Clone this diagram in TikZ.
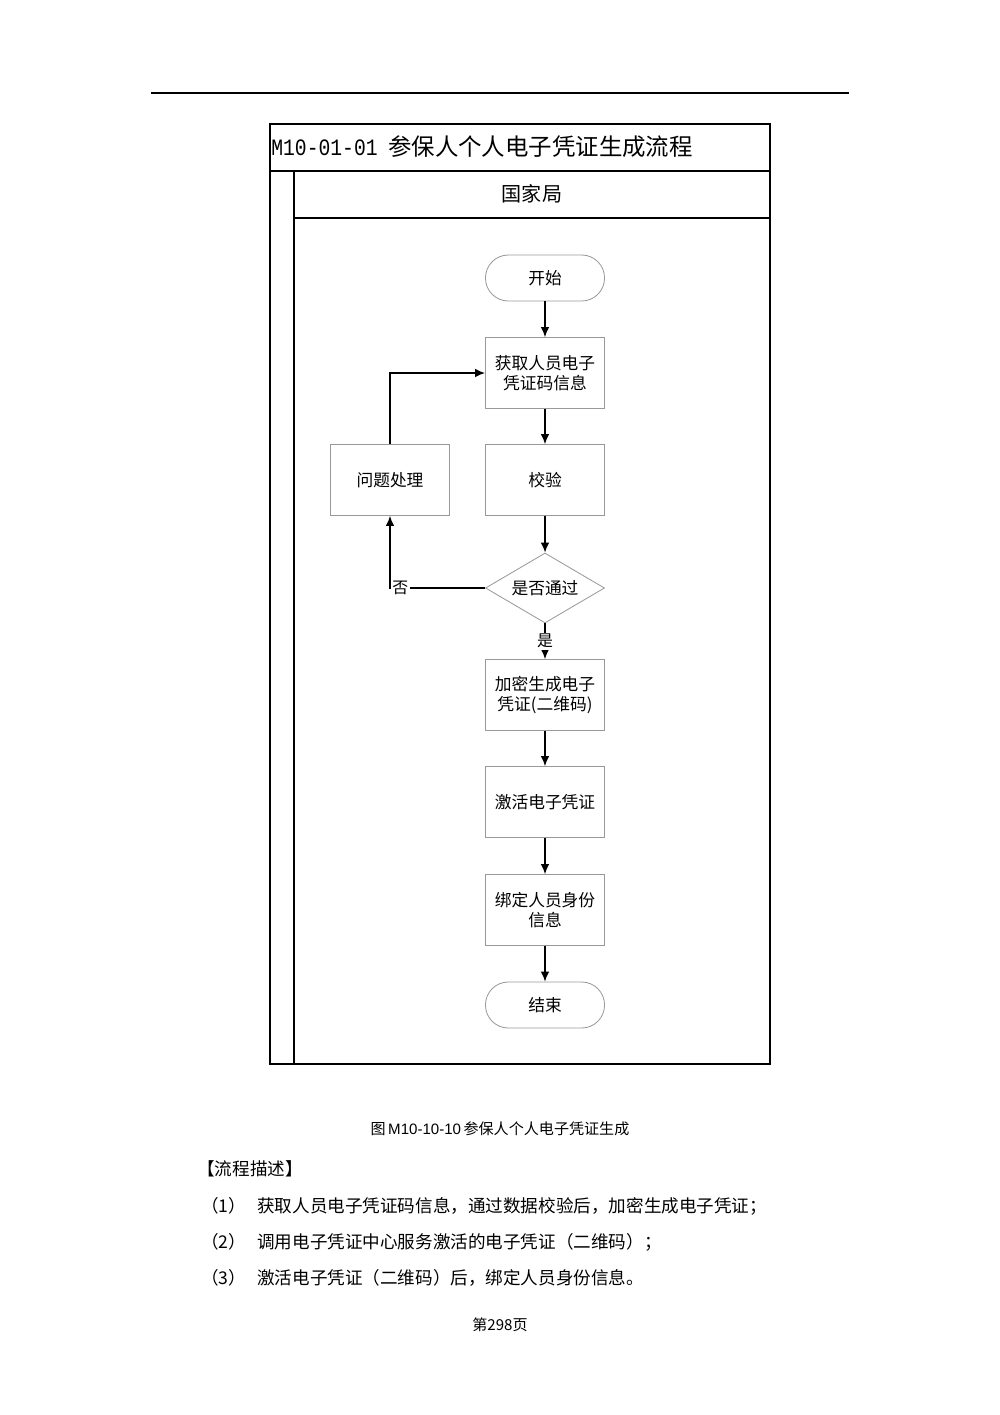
\documentclass[tikz,border=0pt]{standalone}
\usepackage{fontspec}
\setmainfont{Noto Sans CJK SC}
\newfontfamily\monofont[FakeStretch=0.84]{Liberation Mono}
\newfontfamily\arialfont{Liberation Sans}
\usetikzlibrary{shapes.geometric}
\usetikzlibrary{arrows.meta}

\begin{document}
\begin{tikzpicture}[x=0.021cm, y=-0.021cm,
		box/.style={draw=gray!80, line width=0.5pt, minimum width=2.5cm, minimum height=1.49cm, align=center, font=\fontsize{10}{12}\selectfont},
		term/.style={box, rounded corners=0.48cm, minimum height=0.966cm},
		decision/.style={box, diamond, aspect=1.7, inner sep=0pt, minimum height=1.47cm},
		flow/.style={-{Latex[length=0.21cm,width=0.18cm]}, line width=0.8pt},
		lane/.style={line width=0.8pt},
		para/.style={anchor=west, inner sep=0pt, font=\fontsize{10.5}{12}\selectfont}]
		\useasboundingbox (0,0) rectangle (1000,1415);
		% Page rule and pool:
		\draw[lane] (151,93) -- (849,93);
		\draw[lane] (270,124) rectangle (770,1064);
		\draw[lane] (270,171) -- (770,171);
		\draw[lane] (294,218) -- (770,218);
		\draw[lane] (294,171) -- (294,1064);
		\node[anchor=west, inner sep=0pt, font=\fontsize{14}{16}\selectfont] (title) at (271,147) {{\monofont M10-01-01}\hspace{0.45em}参保人个人电子凭证生成流程};
		\node[font=\fontsize{12}{14}\selectfont] (lanehead) at (532,194) {国家局};
		% Nodes:
		\node[term] (start) at (545,278) {开始};
		\node[box] (fetch) at (545,373) {获取人员电子\\凭证码信息};
		\node[box] (check) at (545,480) {校验};
		\node[box] (fix) at (390,480) {问题处理};
		\node[decision] (pass) at (545,588) {是否通过};
		\node[box] (encrypt) at (545,695) {加密生成电子\\凭证(二维码)};
		\node[box] (activate) at (545,802) {激活电子凭证};
		\node[box] (bind) at (545,910) {绑定人员身份\\信息};
		\node[term] (stop) at (545,1005) {结束};
		% Connectors:
		\draw[flow] (start) -- (fetch);
		\draw[flow] (fetch) -- (check);
		\draw[flow] (check) -- (pass);
		\draw[flow] (pass.south) -- node[fill=white, inner sep=1pt, font=\fontsize{9.5}{11}\selectfont] {是} (encrypt.north);
		\draw[flow] (pass.west) -| node[pos=0.5, anchor=west, fill=white, inner sep=1pt, font=\fontsize{9.5}{11}\selectfont] {否} (fix.south);
		\draw[flow] (fix.north) |- (fetch.west);
		\draw[flow] (encrypt) -- (activate);
		\draw[flow] (activate) -- (bind);
		\draw[flow] (bind) -- (stop);
		% Caption and description:
		\node[font=\fontsize{9}{11}\selectfont] (caption) at (500,1129) {图\,{\arialfont M10-10-10}\,参保人个人电子凭证生成};
		\node[para] (deschead) at (197,1169) {【流程描述】};
		\node[para] (n1) at (201,1206) {（1）};
		\node[para] (t1) at (257,1206) {获取人员电子凭证码信息，通过数据校验后，加密生成电子凭证；};
		\node[para] (n2) at (201,1242) {（2）};
		\node[para] (t2) at (257,1242) {调用电子凭证中心服务激活的电子凭证（二维码）；};
		\node[para] (n3) at (201,1278) {（3）};
		\node[para] (t3) at (257,1278) {激活电子凭证（二维码）后，绑定人员身份信息。};
		\node[font=\fontsize{9}{11}\selectfont] (pageno) at (500,1325) {第298页};
	\end{tikzpicture}
\end{document}
